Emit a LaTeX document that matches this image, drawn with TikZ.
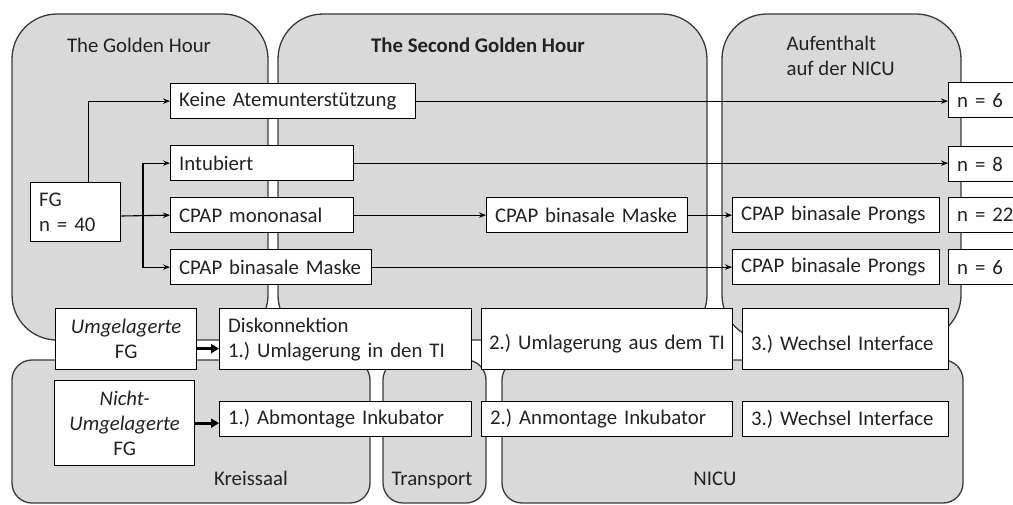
\documentclass[tikz,border=0pt]{standalone}
\usepackage{fontspec}
\setmainfont{Carlito}
\frenchspacing
\usetikzlibrary{arrows.meta}
\definecolor{panelfill}{HTML}{D9D9D9}
\definecolor{panelline}{HTML}{3A3A3A}
\definecolor{ink}{HTML}{222222}
\begin{document}
\begin{tikzpicture}[x=1pt, y=-1pt,
  font=\fontsize{20.8}{25}\selectfont,
  every node/.append style={text=ink},
  panel/.style={draw=panelline, fill=panelfill, line width=1.3pt},
  cell/.style={draw=black, fill=white, line width=1.3pt, anchor=north west,
    inner xsep=8.5pt, inner ysep=0pt, align=left, minimum height=35pt},
  ccell/.style={cell, align=center},
  arr/.style={draw=black, line width=1.1pt, -{Stealth[length=7pt,width=5.5pt]}},
  bigarr/.style={draw=black, line width=3pt, -{Triangle[length=8pt,width=9pt]}},
]
\useasboundingbox (0,0) rectangle (1013,504);
\clip (0,0) rectangle (1013,504);

% phase panels (top row)
\draw[panel, rounded corners=45pt] (12,14) rectangle (268,340);
\draw[panel, rounded corners=45pt] (278,14) rectangle (707,340);
\draw[panel, rounded corners=45pt] (722,14) rectangle (961,340);
% location panels (bottom row)
\draw[panel, rounded corners=20pt] (12,360) rectangle (370,503);
\draw[panel, rounded corners=20pt] (383,360) rectangle (486,503);
\draw[panel, rounded corners=20pt] (502,360) rectangle (963,503);

% panel titles
\node[anchor=base] (tgh)  at (139,52) {The Golden Hour};
\node[anchor=base, font=\fontsize{20.8}{25}\selectfont\bfseries] (tsgh) at (478,52) {The Second Golden Hour};
\node[anchor=west, align=left] (tnicu) at (783,56) {Aufenthalt\\auf der NICU};
\node[anchor=base] (tks)  at (251,485) {Kreissaal};
\node[anchor=base] (ttr)  at (432,485) {Transport};
\node[anchor=base] (tni)  at (715,485) {NICU};

% respiratory support pathways
\node[cell, text width=73pt, minimum height=59pt] (fg) at (30,182) {FG\\n = 40};
\node[cell, text width=228pt] (keine) at (170,83) {Keine Atemunterstützung};
\node[cell, text width=166pt] (intub) at (170,145) {Intubiert};
\node[cell, text width=166pt] (mono)  at (170,197) {CPAP mononasal};
\node[cell, text width=184pt] (maskA) at (170,249) {CPAP binasale Maske};
\node[cell, text width=184pt] (maskB) at (486,197) {CPAP binasale Maske};
\node[cell, text width=190pt] (prA)   at (732,197) {CPAP binasale Prongs};
\node[cell, text width=190pt] (prB)   at (732,249) {CPAP binasale Prongs};
\node[cell, text width=65pt] (nA) at (948,82)  {n = 6};
\node[cell, text width=65pt] (nB) at (948,146) {n = 8};
\node[cell, text width=65pt] (nC) at (948,197) {n = 22};
\node[cell, text width=65pt] (nD) at (948,249) {n = 6};

\coordinate (split) at (143,216);
\draw[arr] ([xshift=13pt]fg.north) |- (keine.west);
\draw[arr] (fg.east |- split) -- (mono.west);
\draw[arr] (split) |- (intub.west);
\draw[arr] (split) |- (maskA.west);
\draw[arr] (keine.east) -- (keine.east -| nA.west);
\draw[arr] (intub.east) -- (intub.east -| nB.west);
\draw[arr] (mono.east) -- (maskB.west);
\draw[arr] (maskB.east) -- (prA.west);
\draw[arr] (maskA.east) -- (prB.west);

% handling steps
\node[ccell, text width=124pt, minimum height=61pt] (umg) at (55,308)
  {\textit{Umgelagerte}\\FG};
\node[cell, text width=235pt, minimum height=61pt] (disk) at (219,308)
  {Diskonnektion\\\mbox{1.) Umlagerung in den TI}};
\node[cell, text width=236pt, inner xsep=7.5pt, minimum height=61pt] (umlB) at (481,308)
  {\mbox{}\\\mbox{2.) Umlagerung aus dem TI}};
\node[cell, text width=189pt, minimum height=61pt] (wechA) at (742,308)
  {\mbox{}\\\mbox{3.) Wechsel Interface}};
\node[ccell, text width=123pt, minimum height=85pt] (nicht) at (54,380)
  {\textit{Nicht-}\\\textit{Umgelagerte}\\FG};
\node[cell, text width=235pt] (abm)   at (219,401) {1.) Abmontage Inkubator};
\node[cell, text width=234pt] (anm)   at (481,401) {2.) Anmontage Inkubator};
\node[cell, text width=189pt] (wechB) at (742,401) {3.) Wechsel Interface};

\draw[bigarr] ([yshift=-9.5pt]umg.east) -- ([yshift=-9.5pt]umg.east -| disk.west);
\draw[bigarr] (nicht.east) -- (nicht.east -| abm.west);
\end{tikzpicture}
\end{document}
